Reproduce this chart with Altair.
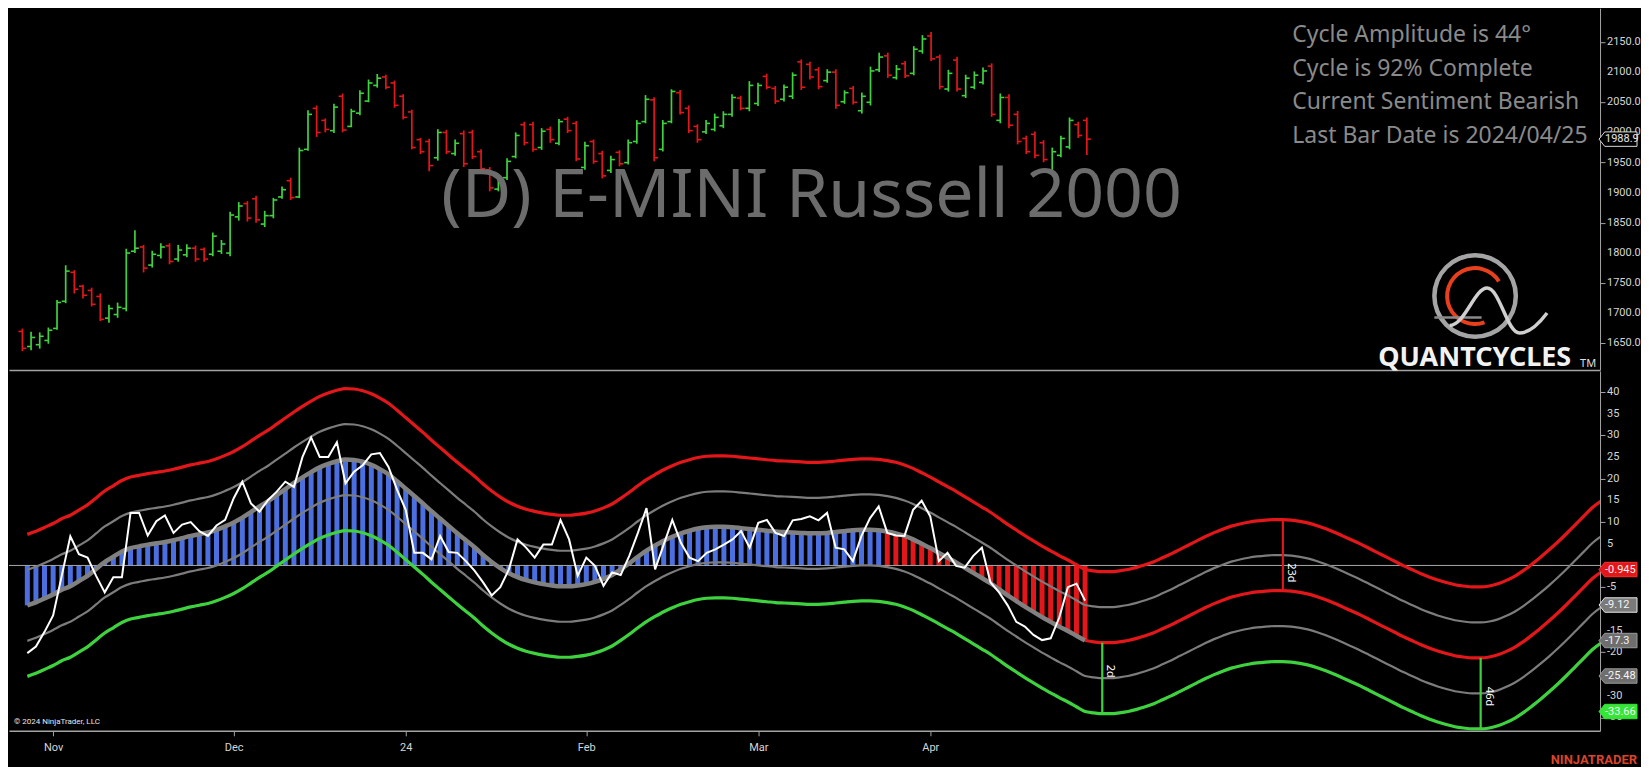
import altair as alt
import pandas as pd

# ---------------- data ----------------
bar_open = [1670, 1645, 1648, 1655, 1675, 1720, 1768, 1745, 1738, 1728,
            1692, 1698, 1708, 1803, 1810, 1780, 1796, 1812, 1790, 1797,
            1808, 1806, 1798, 1803, 1800, 1860, 1882, 1890, 1848, 1862,
            1893, 1920, 1893, 1972, 2040, 2020, 2003, 2060, 2010, 2032,
            2052, 2078, 2092, 2082, 2060, 2034, 1988, 1985, 1958, 2000,
            1965, 1998, 2000, 1968, 1938, 1906, 1925, 1960, 2013, 2013,
            1975, 2005, 1982, 2022, 2015, 1942, 1985, 1965, 1937, 1967,
            1950, 1985, 2018, 2054, 1972, 2018, 2066, 2040, 2010, 2001,
            2005, 2011, 2030, 2057, 2040, 2048, 2093, 2073, 2055, 2060,
            2117, 2113, 2104, 2086, 2100, 2051, 2073, 2036, 2050, 2104,
            2127, 2091, 2114, 2098, 2135, 2160, 2125, 2072, 2120, 2061,
            2075, 2083, 2110, 2020, 2058, 2030, 1990, 1997, 1983, 1933,
            1962, 1976, 2013, 2020]
bar_high = [1674.8, 1669.4, 1668.4, 1676.4, 1722.1, 1779.7, 1771.6, 1747.4, 1742.6, 1732.9,
            1714.1, 1717.8, 1807.1, 1837.7, 1813.5, 1803.8, 1816.2, 1816.2, 1813.5, 1814.6,
            1812.4, 1809.2, 1834.0, 1821.6, 1868.4, 1884.5, 1886.1, 1895.2, 1870.0, 1891.5,
            1910.3, 1924.8, 1974.8, 2036.7, 2044.7, 2023.2, 2047.4, 2064.6, 2039.3, 2070.0,
            2087.7, 2096.9, 2095.8, 2086.1, 2063.5, 2037.7, 1991.0, 1989.4, 2005.5, 2004.4,
            1988.3, 2003.3, 2004.4, 1972.1, 1942.6, 1926.5, 1957.1, 2000.1, 2017.8, 2017.8,
            2007.1, 2009.8, 2022.2, 2025.9, 2018.9, 1984.5, 1988.3, 1969.5, 1961.4, 1970.5,
            1988.3, 2020.5, 2061.9, 2058.2, 2020.5, 2071.6, 2070.5, 2044.7, 2013.5, 2020.5,
            2031.3, 2035.1, 2063.5, 2060.9, 2085.1, 2082.4, 2097.4, 2077.0, 2079.7, 2099.6,
            2121.1, 2117.3, 2108.2, 2104.9, 2105.0, 2070.0, 2077.0, 2066.2, 2109.2, 2132.3,
            2132.3, 2111.9, 2118.4, 2143.1, 2161.4, 2166.7, 2129.1, 2103.9, 2125.4, 2095.8,
            2101.2, 2107.6, 2114.6, 2064.6, 2063.5, 2035.6, 1994.7, 2001.7, 1987.2, 1974.8,
            1994.7, 2024.8, 2017.8, 2024.8]
bar_low = [1637.2, 1638.8, 1641.5, 1649.6, 1672.7, 1716.8, 1732.9, 1724.8, 1711.4, 1687.2,
           1684.5, 1692.6, 1703.3, 1800.1, 1767.8, 1775.9, 1791.0, 1781.3, 1785.6, 1793.1,
           1785.6, 1785.6, 1794.7, 1798.5, 1794.7, 1853.8, 1852.2, 1850.1, 1843.1, 1857.6,
           1889.9, 1888.0, 1891.0, 1969.5, 1992.6, 2000.1, 1999.0, 2000.1, 2008.7, 2028.6,
           2050.1, 2074.3, 2071.6, 2041.0, 2021.6, 1972.1, 1964.1, 1935.6, 1953.3, 1964.1,
           1961.4, 1942.6, 1956.0, 1934.5, 1902.3, 1902.3, 1921.1, 1957.1, 1978.6, 1967.8,
           1971.1, 1982.9, 1978.6, 1999.0, 1952.3, 1938.3, 1948.0, 1923.8, 1932.9, 1943.7,
           1946.9, 1981.3, 2015.2, 1952.3, 1968.4, 2015.2, 2029.7, 1999.0, 1982.9, 1997.4,
           2001.7, 2007.1, 2025.9, 2036.7, 2035.1, 2043.7, 2071.6, 2047.4, 2051.2, 2055.5,
           2070.5, 2087.7, 2071.6, 2082.4, 2039.4, 2047.4, 2046.3, 2031.3, 2044.7, 2100.1,
           2090.4, 2087.7, 2090.4, 2094.7, 2130.7, 2118.4, 2071.6, 2067.8, 2067.8, 2057.1,
           2071.6, 2079.7, 2025.9, 2015.2, 2007.1, 1980.2, 1964.1, 1957.1, 1950.6, 1929.1,
           1958.7, 1972.1, 1990.9, 1962.5]
bar_close = [1642, 1660, 1662, 1672, 1718, 1770, 1740, 1730, 1715, 1690,
             1708, 1710, 1800, 1808, 1775, 1798, 1810, 1786, 1805, 1808,
             1790, 1790, 1828, 1815, 1863, 1878, 1858, 1855, 1862, 1888,
             1905, 1892, 1970, 2030, 2000, 2005, 2042, 2004, 2035, 2065,
             2082, 2090, 2075, 2045, 2025, 1975, 1968, 1945, 2000, 1968,
             1982, 1948, 1960, 1940, 1908, 1920, 1952, 1995, 1983, 1972,
             2002, 1988, 2018, 2003, 1956, 1978, 1952, 1928, 1955, 1948,
             1983, 2015, 2055, 1958, 2015, 2068, 2033, 2003, 1988, 2015,
             2025, 2030, 2058, 2040, 2078, 2078, 2075, 2052, 2075, 2095,
             2075, 2092, 2076, 2100, 2045, 2066, 2050, 2060, 2102, 2125,
             2095, 2105, 2094, 2138, 2155, 2122, 2076, 2098, 2072, 2090,
             2095, 2102, 2030, 2058, 2012, 1985, 1968, 1962, 1955, 1968,
             1990, 2020, 1995, 1988.9]

# smoothed cycle (thick grey line / histogram), one value per bar
cycle_hist = [-9.2, -8.5, -7.6, -6.7, -5.6, -4.8, -3.6, -2.4, -0.8, 0.8,
              2.0, 3.2, 4.0, 4.4, 4.8, 5.1, 5.4, 5.8, 6.3, 6.8,
              7.2, 7.6, 8.2, 9.0, 9.9, 11.0, 12.3, 13.6, 14.8, 16.2,
              17.6, 19.0, 20.3, 21.5, 22.6, 23.4, 24.0, 24.4, 24.3, 23.9,
              23.2, 22.2, 21.0, 19.4, 17.7, 16.0, 14.3, 12.5, 10.8, 9.1,
              7.4, 5.8, 4.2, 2.4, 0.8, -0.6, -1.8, -2.7, -3.4, -3.9,
              -4.3, -4.6, -4.8, -4.8, -4.6, -4.3, -3.8, -3.1, -2.2, -0.9,
              0.5, 2.0, 3.4, 4.6, 5.7, 6.6, 7.4, 8.0, 8.5, 8.8,
              8.9, 8.9, 8.8, 8.6, 8.4, 8.2, 8.0, 7.8, 7.7, 7.6,
              7.5, 7.4, 7.4, 7.5, 7.7, 7.9, 8.1, 8.2, 8.2, 8.1,
              7.8, 7.4, 6.8, 6.0, 5.0, 4.0, 2.9, 1.8, 0.7, -0.5,
              -1.7, -2.9, -4.1, -5.5, -6.9, -8.2, -9.5, -10.7, -11.9, -13.0,
              -14.1, -15.1, -16.2, -17.3]
# projected cycle after the last bar (bars 124 .. 183)
cycle_proj = [-17.6, -17.8, -17.8, -17.6, -17.3, -16.8, -16.2, -15.5, -14.6, -13.7,
              -12.7, -11.7, -10.7, -9.7, -8.8, -8.0, -7.3, -6.8, -6.4, -6.1,
              -5.9, -5.8, -5.8, -5.9, -6.2, -6.6, -7.2, -7.9, -8.7, -9.6,
              -10.5, -11.4, -12.4, -13.4, -14.4, -15.4, -16.4, -17.3, -18.2, -19.0,
              -19.7, -20.3, -20.8, -21.1, -21.3, -21.3, -21.1, -20.6, -19.8, -18.8,
              -17.5, -16.0, -14.4, -12.7, -10.9, -9.0, -7.0, -5.0, -3.0, -1.5]
# raw oscillator (white line)
raw_osc = [-20.2, -18.7, -15.3, -11.5, -2.4, 6.7, 2.6, 1.8, -2.4, -6.2,
           -2.7, -2.7, 12.1, 12.1, 6.9, 10.2, 11.5, 7.5, 9.4, 10.0,
           7.9, 6.8, 9.2, 10.5, 15.5, 19.3, 14.3, 12.4, 15.1, 17.0,
           19.3, 18.1, 25.0, 29.5, 25.0, 25.0, 28.4, 18.9, 21.6, 23.1,
           25.6, 25.9, 22.7, 17.4, 12.8, 2.9, 2.9, 1.4, 6.8, 3.1,
           2.9, 1.0, -1.2, -3.9, -6.9, -5.0, -0.9, 6.0, 4.1, 1.8,
           4.8, 4.8, 10.5, 6.0, -2.4, 1.8, -0.1, -4.7, -1.6, -2.2,
           2.2, 7.5, 13.2, -0.9, 4.8, 10.5, 5.2, 1.8, 1.0, 2.9,
           3.7, 4.8, 6.0, 7.9, 4.1, 9.8, 10.5, 7.5, 6.8, 10.4,
           10.7, 11.3, 10.4, 12.1, 4.1, 3.7, 1.0, 6.8, 10.9, 13.6,
           7.5, 6.9, 6.8, 12.8, 14.9, 11.3, 1.0, 2.9, -0.1, -0.5,
           2.2, 4.1, -3.9, -6.2, -9.2, -13.0, -14.1, -16.0, -17.2, -16.8,
           -12.0, -5.0, -4.2, -8.1]

band_offsets = [16.36, 8.18, -8.18, -16.36]       # upper red, upper grey, lower grey, green
band_names = ["u2", "u1", "d1", "d2"]
bear_from_bar = 100                                # histogram turns red here

last_values = [-0.945, -9.12, -17.3, -25.48, -33.66]
last_labels = ["-0.945", "-9.12", "-17.3", "-25.48", "-33.66"]
last_price = 1988.9

proj_mark_bar = [125, 146, 169]
proj_mark_text = ["2d", "23d", "46d"]
proj_mark_laby = [-24.4, -1.7, -30.2]

tick_bars = [3, 24, 44, 65, 85, 105]
tick_names = ["Nov", "Dec", "24", "Feb", "Mar", "Apr"]
price_ticks = [1650, 1700, 1750, 1800, 1850, 1900, 1950, 2000, 2050, 2100, 2150]
osc_ticks = [40, 35, 30, 25, 20, 15, 10, 5, -5, -15, -20, -30, -35]

title_text = "(D) E-MINI Russell 2000"
info_lines = ["Cycle Amplitude is 44\u00b0", "Cycle is 92% Complete",
              "Current Sentiment Bearish", "Last Bar Date is 2024/04/25"]

# ---------------- styles ----------------
W, H1, H2 = 1592, 362, 360
GREEN = "#3fd23f"
RED = "#e3161a"
BLUE = "#4b6fe0"
GREY = "#7c7c7c"
AXC = "#a4a4a4"
LBL = "#d6d6d6"
AXF = "Roboto"
SANS = "Noto Sans"
FLAG = "M-1,0 L-0.7,-0.38 L1,-0.38 L1,0.38 L-0.7,0.38 Z"
FLAG_SIZE = 1444

xs = alt.Scale(domain=[-1.55, 182.3], nice=False, zero=False)
ys_top = alt.Scale(domain=[1606, 2206], nice=False, zero=False)
ys_bot = alt.Scale(domain=[-38.1, 44.8], nice=False, zero=False)

n = len(bar_close)
ohlc = pd.DataFrame({"i": list(range(n)), "o": bar_open, "h": bar_high,
                     "l": bar_low, "c": bar_close})
ohlc["clr"] = [GREEN if c >= o else RED for o, c in zip(bar_open, bar_close)]

one = pd.DataFrame({"a": [0]})


def label_text(text, x, y, size, color, font=SANS, weight="normal", align="left"):
    return alt.Chart(one).mark_text(text=text, font=font, fontSize=size, color=color,
                                    fontWeight=weight, align=align,
                                    baseline="alphabetic").encode(
        x=alt.value(x), y=alt.value(y))


def axis_labels(values, texts):
    df = pd.DataFrame({"v": values, "lab": texts})
    return alt.Chart(df).mark_text(align="left", baseline="middle", font=AXF,
                                   fontSize=11, color=LBL).encode(
        x=alt.value(W + 7), y="v:Q", text="lab:N")


# ---------------- top panel ----------------
top_x_axis = alt.Axis(labels=False, ticks=False, domain=True, domainColor=AXC,
                      domainWidth=1.5, title=None, grid=False)
top_y_axis = alt.Axis(orient="right", values=price_ticks, labels=False, title=None,
                      grid=False, domainColor=AXC, tickColor=AXC, tickSize=5)

base_top = alt.Chart(ohlc)
hl = base_top.mark_rule(strokeWidth=1.7).encode(
    x=alt.X("i:Q", scale=xs, axis=top_x_axis),
    y=alt.Y("l:Q", scale=ys_top, axis=top_y_axis),
    y2="h:Q",
    color=alt.Color("clr:N", scale=None))
op = base_top.mark_tick(orient="horizontal", size=4, thickness=1.6, xOffset=-2,
                        opacity=1).encode(
    x="i:Q", y="o:Q", color=alt.Color("clr:N", scale=None))
cl = base_top.mark_tick(orient="horizontal", size=4, thickness=1.6, xOffset=2,
                        opacity=1).encode(
    x="i:Q", y="c:Q", color=alt.Color("clr:N", scale=None))
top_labels = axis_labels(price_ticks, [f"{v:.1f}" for v in price_ticks])

title = label_text(title_text, 803, 209, 68, "#6c6c6c", align="center")
info = [label_text(t, 1284, 34 + k * 33.5, 23, "#8a8a8a") for k, t in enumerate(info_lines)]

# logo
LX, LY = 1467, 288
ring = alt.Chart(one).mark_arc(radius=43, radius2=38.5, theta=0, theta2=6.2832,
                               color="#a4a4a4").encode(x=alt.value(LX), y=alt.value(LY))
ring_red = alt.Chart(one).mark_arc(radius=30, radius2=26, theta=2.8, theta2=7.3,
                                   color="#e8401c").encode(x=alt.value(LX), y=alt.value(LY))
swoosh = alt.Chart(one).mark_point(
    shape="M-0.95,0.35 C-0.65,0.35 -0.45,-0.4 -0.2,-0.4 C0.05,-0.4 0.2,0.5 0.45,0.5 "
          "C0.65,0.5 0.85,0.3 1,0.1",
    size=10000, filled=False, stroke="#cfcfcf", strokeWidth=3.5, opacity=1).encode(
    x=alt.value(LX + 22), y=alt.value(LY + 12))
swoosh2 = alt.Chart(one).mark_point(
    shape="M-0.95,0.3 L0.1,0.3", size=8100, filled=False, stroke="#8a8a8a",
    strokeWidth=2.5, opacity=1).encode(x=alt.value(LX + 2), y=alt.value(LY + 8))
qc = label_text("QUANTCYCLES", 1370, 358, 27, "#f2f2f2", weight="bold")
tm = label_text("TM", 1572, 359, 11, "#dddddd")

price_mark_df = pd.DataFrame({"v": [last_price], "lab": [f"{last_price:.1f}"]})
price_flag = alt.Chart(price_mark_df).mark_point(
    shape=FLAG, size=FLAG_SIZE, filled=True, fill="black", stroke="#d8d8d8",
    strokeWidth=1, opacity=1).encode(x=alt.value(W + 18), y="v:Q")
price_flag_txt = alt.Chart(price_mark_df).mark_text(
    align="left", baseline="middle", font=AXF, fontSize=11, color="#e6e6e6").encode(
    x=alt.value(W + 5), y="v:Q", text="lab:N")

top = alt.layer(hl, op, cl, top_labels, title, *info, ring, ring_red, swoosh2, swoosh,
                qc, tm, price_flag, price_flag_txt).properties(width=W, height=H1)

# ---------------- bottom panel ----------------
center_all = cycle_hist + cycle_proj
idx_all = list(range(len(center_all)))

hist_df = pd.DataFrame({"i": list(range(n)), "c": cycle_hist, "z": [0.0] * n})
hist_df["clr"] = [BLUE if i < bear_from_bar else RED for i in range(n)]

band_rows = []
band_col = {"u2": RED, "u1": GREY, "d1": GREY, "d2": GREEN}
band_w = {"u2": 3.2, "u1": 2.2, "d1": 2.2, "d2": 3.2}
for name, off in zip(band_names, band_offsets):
    for i, c in zip(idx_all, center_all):
        band_rows.append({"i": i, "v": round(c + off, 3), "s": name,
                          "clr": band_col[name], "sw": band_w[name]})
bands_df = pd.DataFrame(band_rows)

center_hist_df = pd.DataFrame({"i": list(range(n)), "v": cycle_hist})
center_proj_df = pd.DataFrame({"i": list(range(n - 1, len(center_all))),
                               "v": center_all[n - 1:]})
raw_df = pd.DataFrame({"i": list(range(n)), "v": raw_osc})

label_expr = ""
for v, t in zip(tick_bars, tick_names):
    label_expr += f"datum.value == {v} ? '{t}' : "
label_expr += "''"

bot_x_axis = alt.Axis(values=tick_bars, labelExpr=label_expr, title=None, grid=False,
                      domainColor=AXC, domainWidth=1.5, tickColor=AXC, tickSize=5,
                      labelColor=LBL, labelFont=AXF, labelFontSize=11, labelPadding=6)
bot_y_axis = alt.Axis(orient="right", values=osc_ticks, labels=False, title=None,
                      grid=False, domainColor=AXC, tickColor=AXC, tickSize=5)

hist = alt.Chart(hist_df).mark_bar(size=5).encode(
    x=alt.X("i:Q", scale=xs, axis=bot_x_axis),
    y=alt.Y("c:Q", scale=ys_bot, axis=bot_y_axis),
    y2="z:Q",
    color=alt.Color("clr:N", scale=None))
zero = alt.Chart(one).mark_rule(color="#a8a8a8", strokeWidth=1).encode(y=alt.datum(0))
bands = alt.Chart(bands_df).mark_line(interpolate="monotone", clip=True).encode(
    x="i:Q", y="v:Q", detail="s:N",
    color=alt.Color("clr:N", scale=None),
    strokeWidth=alt.StrokeWidth("sw:Q", scale=None))
center_line = alt.Chart(center_hist_df).mark_line(
    interpolate="monotone", color="#808080", strokeWidth=4.5).encode(x="i:Q", y="v:Q")
center_proj_line = alt.Chart(center_proj_df).mark_line(
    interpolate="monotone", color=RED, strokeWidth=3.2, clip=True).encode(x="i:Q", y="v:Q")
raw_line = alt.Chart(raw_df).mark_line(color="white", strokeWidth=2).encode(x="i:Q", y="v:Q")
bot_labels = axis_labels(osc_ticks, [str(v) for v in osc_ticks])

ann_rows = []
for b, t, ly in zip(proj_mark_bar, proj_mark_text, proj_mark_laby):
    c = center_all[b]
    if t == "23d":
        lo, hi, clr = c, c + band_offsets[0], RED
    else:
        lo, hi, clr = c + band_offsets[3], c, GREEN
    ann_rows.append({"i": b, "lo": lo, "hi": hi, "clr": clr, "lab": t, "ly": ly})
ann_df = pd.DataFrame(ann_rows)
ann_rule = alt.Chart(ann_df).mark_rule(strokeWidth=2.2).encode(
    x="i:Q", y="lo:Q", y2="hi:Q", color=alt.Color("clr:N", scale=None))
ann_txt = alt.Chart(ann_df).mark_text(
    angle=90, align="center", baseline="bottom", font=SANS, fontSize=11,
    color="white", xOffset=3).encode(x="i:Q", y="ly:Q", text="lab:N")

marks_df = pd.DataFrame({"v": last_values, "lab": last_labels,
                         "fill": [RED, "#7a7a7a", "#6e6e6e", "#6e6e6e", "#36e636"],
                         "stroke": ["#ff3030", "#e8e8e8", "#9a9a9a", "#9a9a9a", "#36e636"]})
flags = alt.Chart(marks_df).mark_point(shape=FLAG, size=FLAG_SIZE, filled=True,
                                       strokeWidth=1, opacity=1).encode(
    x=alt.value(W + 18), y="v:Q",
    fill=alt.Fill("fill:N", scale=None), stroke=alt.Stroke("stroke:N", scale=None))
flags_txt = alt.Chart(marks_df).mark_text(
    align="left", baseline="middle", font=AXF, fontSize=11, color="#f4f4f4").encode(
    x=alt.value(W + 5), y="v:Q", text="lab:N")

copyright_txt = label_text("\u00a9 2024 NinjaTrader, LLC", 5, 353, 8, "#e8e8e8", font=AXF)
ninja_txt = label_text("NINJATRADER", W + 37, H2 + 33, 13, "#d9442b", font=AXF,
                       weight="bold", align="right")

bottom = alt.layer(hist, zero, bands, center_line, center_proj_line, raw_line,
                   ann_rule, ann_txt, bot_labels, flags, flags_txt, copyright_txt, ninja_txt
                   ).properties(width=W, height=H2)

chart = alt.vconcat(top, bottom, spacing=0).properties(
    background="black", padding=0
).configure_view(stroke=None).configure_axis(grid=False)

chart.save("out.html", embed_options={"renderer": "svg", "actions": False})
